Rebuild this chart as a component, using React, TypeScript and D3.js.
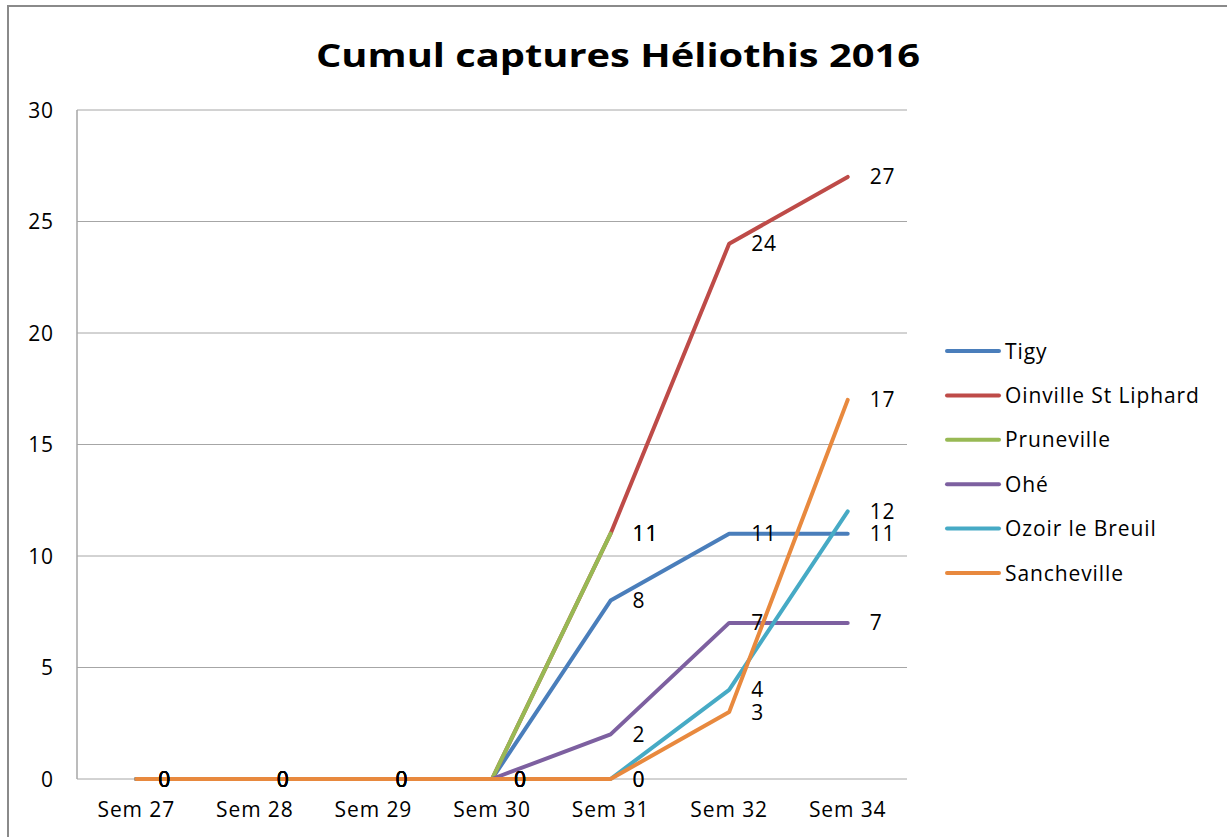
import React from 'react';
import * as d3 from 'd3';

const title = 'Cumul captures Héliothis 2016';
const weeks = ['Sem 27', 'Sem 28', 'Sem 29', 'Sem 30', 'Sem 31', 'Sem 32', 'Sem 34'];
const yTicks = [0, 5, 10, 15, 20, 25, 30];

const tigy = [0, 0, 0, 0, 8, 11, 11];
const oinville = [0, 0, 0, 0, 11, 24, 27];
const pruneville = [0, 0, 0, 0, 11, null, null];
const ohe = [0, 0, 0, 0, 2, 7, 7];
const ozoir = [0, 0, 0, 0, 0, 4, 12];
const sancheville = [0, 0, 0, 0, 0, 3, 17];

const series = [
  { name: 'Tigy', values: tigy, color: '#4A7EBB' },
  { name: 'Oinville St Liphard', values: oinville, color: '#BE4B48' },
  { name: 'Pruneville', values: pruneville, color: '#98B954' },
  { name: 'Ohé', values: ohe, color: '#7D60A0' },
  { name: 'Ozoir le Breuil', values: ozoir, color: '#46AAC5' },
  { name: 'Sancheville', values: sancheville, color: '#E8893E' },
];

const W = 1227;
const H = 837;
const font = '"Open Sans", sans-serif';

export default function App() {
  const plot = { left: 77, right: 907, top: 110, bottom: 779 };

  const x = d3.scalePoint<string>()
    .domain(weeks)
    .range([plot.left, plot.right])
    .padding(0.5);

  const y = d3.scaleLinear()
    .domain([0, 30])
    .range([plot.bottom, plot.top]);

  // lines skip the missing weeks (Pruneville stops at Sem 31)
  const line = d3.line<number | null>()
    .defined(d => d !== null)
    .x((_, i) => x(weeks[i]) as number)
    .y(d => y(d as number));

  const legendY = d3.scalePoint<string>()
    .domain(series.map(s => s.name))
    .range([351, 573]);

  const txt = { fontFamily: font, fontSize: 21, fill: '#000', letterSpacing: 0.9 };

  return (
    <div style={{ position: 'absolute', left: 0, top: 0 }}>
      <svg width={W} height={H} style={{ display: 'block', background: '#fff' }}>
        <rect x={8} y={6} width={W + 10} height={H + 10} fill="#fff" stroke="#8a8a8a" strokeWidth={2} />

        <text x={618} y={67} textAnchor="middle" fontFamily={font} fontWeight="bold" fontSize={33}
          textLength={604} lengthAdjust="spacingAndGlyphs" fill="#000">
          {title}
        </text>

        {/* grid + y labels */}
        {yTicks.map(t => (
          <g key={t}>
            <line x1={plot.left} x2={plot.right} y1={y(t)} y2={y(t)} stroke="#a6a6a6" strokeWidth={1} />
            <text x={54} y={y(t)} dy="0.36em" textAnchor="end" {...txt}>
              {t}
            </text>
          </g>
        ))}
        <line x1={plot.left} x2={plot.left} y1={plot.top} y2={plot.bottom} stroke="#a6a6a6" strokeWidth={1.5} />

        {weeks.map(w => (
          <text key={w} x={x(w)} y={817} textAnchor="middle" {...txt}>
            {w}
          </text>
        ))}

        {series.map(s => (
          <path key={s.name} d={line(s.values) || ''} fill="none" stroke={s.color} strokeWidth={4} strokeLinejoin="round" strokeLinecap="round" />
        ))}

        {series.map(s =>
          s.values.map((v, i) =>
            v === null ? null : (
              <text key={s.name + i} x={(x(weeks[i]) as number) + 22} y={y(v)} dy="0.36em" {...txt}>
                {v}
              </text>
            )
          )
        )}

        {series.map(s => (
          <g key={s.name} transform={`translate(0,${legendY(s.name)})`}>
            <line x1={947} x2={999} y1={0} y2={0} stroke={s.color} strokeWidth={4} strokeLinecap="round" />
            <text x={1005} y={0} dy="0.36em" {...txt}>
              {s.name}
            </text>
          </g>
        ))}
      </svg>
    </div>
  );
}
